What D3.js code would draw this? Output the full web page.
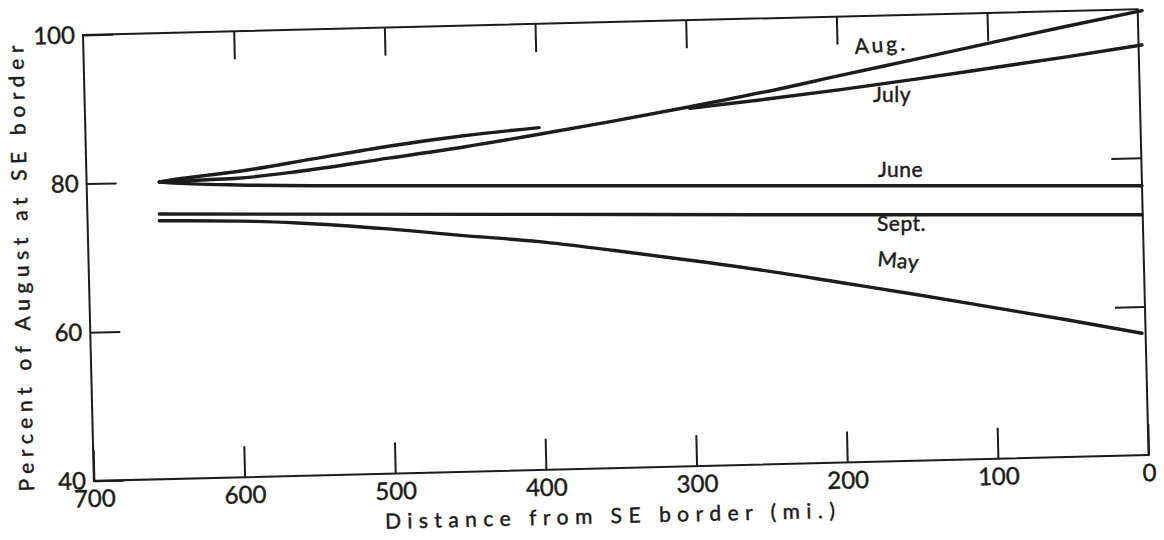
<!DOCTYPE html>
<html>
<head>
<meta charset="utf-8">
<script src="https://cdn.jsdelivr.net/npm/d3@7"></script>
<style>
  body { margin: 0; background: #ffffff; }
  svg { display: block; }
  text { font-family: Lato, "Open Sans", sans-serif; fill: #1c1c1c; stroke: #1c1c1c; stroke-width: 0.45px; }
</style>
</head>
<body>
<svg id="chart" width="1164" height="540"></svg>
<script>
// Axis ticks
const xTickValues = [700, 600, 500, 400, 300, 200, 100, 0];
const xInnerTicks = [600, 500, 400, 300, 200, 100];
const yTickValues = [40, 60, 80, 100];
const yInnerTicks = [60, 80];

// Distance from SE border (mi.) and percent of August value, by month
const augMiles = [652, 640, 620, 600, 560, 500, 450, 400, 350, 300, 250, 200, 150, 100, 50, 0];
const augPct   = [80.5, 80.6, 80.8, 81.0, 81.9, 83.7, 85.2, 86.9, 88.7, 90.6, 92.6, 94.8, 97.0, 99.2, 101.4, 103.5];

const julyMilesA = [652, 640, 620, 600, 550, 500, 450, 400];
const julyPctA   = [80.5, 80.9, 81.4, 81.9, 83.6, 85.3, 86.7, 87.8];
const julyMilesB = [300, 250, 200, 150, 100, 50, 0];
const julyPctB   = [90.4, 91.6, 92.9, 94.3, 95.8, 97.3, 98.9];

const juneMiles = [652, 630, 600, 550, 400, 200, 0];
const junePct   = [80.5, 80.25, 80.1, 80.0, 80.0, 80.0, 80.0];

const septMiles = [652, 400, 200, 0];
const septPct   = [76.2, 76.15, 76.1, 76.1];

const mayMiles = [652, 600, 560, 500, 450, 400, 350, 300, 250, 200, 150, 100, 50, 0];
const mayPct   = [75.3, 75.25, 75.0, 74.2, 73.3, 72.5, 71.3, 70.0, 68.6, 67.0, 65.4, 63.7, 62.0, 60.2];

const monthLabels = ["Aug.", "July", "June", "Sept.", "May"];

const svg = d3.select("#chart");
const ink = "#1c1c1c";

// ---- Frame, ticks and axis titles (the drawn frame sits at a slight tilt) ----
const W = 1055, H = 446;
const frame = svg.append("g").attr("transform", "translate(83,35) rotate(-1.4)");

const fx = d3.scaleLinear().domain([700, 0]).range([0, W]);
const fy = d3.scaleLinear().domain([40, 100]).range([H, 0]);

frame.append("rect")
  .attr("x", 0).attr("y", 0).attr("width", W).attr("height", H)
  .attr("fill", "none").attr("stroke", ink).attr("stroke-width", 2);

function styleAxis(g, fontSize) {
  g.select(".domain").remove();
  g.selectAll(".tick line").attr("stroke", ink).attr("stroke-width", 2);
  g.selectAll(".tick text")
    .attr("fill", ink)
    .style("font-family", "Lato, 'Open Sans', sans-serif")
    .style("font-size", fontSize + "px");
}

frame.append("g")
  .attr("transform", `translate(0,${H})`)
  .call(d3.axisBottom(fx).tickValues(xTickValues).tickSizeInner(-31).tickSizeOuter(0).tickPadding(9).tickFormat(d3.format("d")))
  .call(g => styleAxis(g, 24));

frame.append("g")
  .call(d3.axisTop(fx).tickValues(xInnerTicks).tickSizeInner(-28).tickSizeOuter(0).tickFormat(""))
  .call(g => styleAxis(g, 1));

frame.append("g")
  .call(d3.axisLeft(fy).tickValues(yTickValues).tickSizeInner(-30).tickSizeOuter(0).tickPadding(8).tickFormat(d3.format("d")))
  .call(g => styleAxis(g, 24));

frame.append("g")
  .attr("transform", `translate(${W},0)`)
  .call(d3.axisRight(fy).tickValues(yInnerTicks).tickSizeInner(-30).tickSizeOuter(0).tickFormat(""))
  .call(g => styleAxis(g, 1));

frame.append("text")
  .attr("transform", "translate(-60,232) rotate(-90)")
  .attr("text-anchor", "middle")
  .attr("textLength", 446)
  .attr("lengthAdjust", "spacing")
  .style("font-size", "21px")
  .text("Percent of August at SE border");

frame.append("text")
  .attr("x", 515).attr("y", 501)
  .attr("text-anchor", "middle")
  .attr("textLength", 450)
  .attr("lengthAdjust", "spacing")
  .style("font-size", "21px")
  .text("Distance from SE border (mi.)");

// ---- Monthly curves ----
const x = d3.scaleLinear().domain([700, 0]).range([87, 1142]);
const y = d3.scaleLinear().domain([40, 100]).range([483.7, 36.7]);

const line = d3.line()
  .x(d => x(d[0]))
  .y(d => y(d[1]))
  .curve(d3.curveMonotoneX);

const series = [
  d3.zip(augMiles, augPct),
  d3.zip(julyMilesA, julyPctA),
  d3.zip(julyMilesB, julyPctB),
  d3.zip(juneMiles, junePct),
  d3.zip(septMiles, septPct),
  d3.zip(mayMiles, mayPct)
];

svg.append("g")
  .selectAll("path")
  .data(series)
  .join("path")
  .attr("d", line)
  .attr("fill", "none")
  .attr("stroke", ink)
  .attr("stroke-width", 3.4)
  .attr("stroke-linecap", "round")
  .attr("stroke-linejoin", "round");

// ---- Month labels ----
const labelPos = [
  { x: 855, y: 54, rot: -4, ls: 3 },
  { x: 873, y: 102, rot: 0, ls: 0.5 },
  { x: 878, y: 177, rot: 0, ls: 0.5 },
  { x: 877, y: 231, rot: 0, ls: 0.5 },
  { x: 877, y: 266, rot: 5, ls: 0.5 }
];

svg.append("g")
  .selectAll("text")
  .data(monthLabels)
  .join("text")
  .attr("transform", (d, i) => `translate(${labelPos[i].x},${labelPos[i].y}) rotate(${labelPos[i].rot})`)
  .style("font-size", "21px")
  .style("letter-spacing", (d, i) => labelPos[i].ls + "px")
  .text(d => d);
</script>
</body>
</html>
